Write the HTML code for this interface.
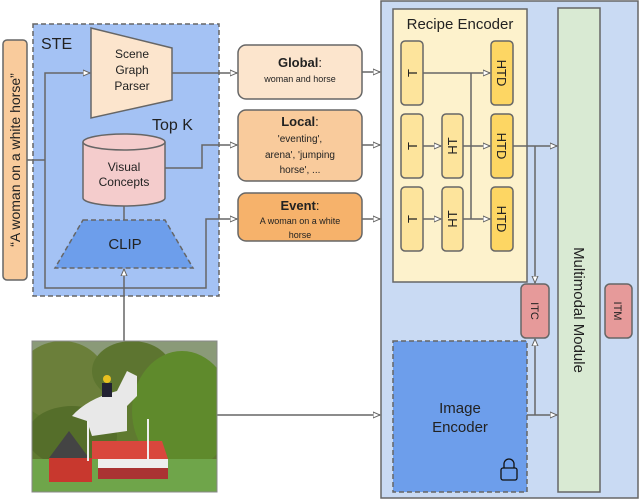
<!DOCTYPE html>
<html><head><style>body{margin:0;background:#fff}svg{display:block}text{font-family:"Liberation Sans",sans-serif}</style></head><body>
<svg width="640" height="500" viewBox="0 0 640 500">
<defs><marker id="a" markerWidth="8" markerHeight="8" refX="7" refY="4" orient="auto" markerUnits="userSpaceOnUse"><path d="M0,1 L7,4 L0,7 Z" fill="#fff" stroke="#666" stroke-width="1"/></marker></defs>
<rect x="381" y="1" width="257" height="497" fill="#c9daf3" stroke="#666" stroke-width="1.5"/>
<rect x="393" y="9" width="134" height="273" fill="#fdf2cc" stroke="#666" stroke-width="1.5"/>
<text x="460" y="29" font-size="15" text-anchor="middle" fill="#222">Recipe Encoder</text>
<g stroke="#666" stroke-width="1.5">
<rect x="401" y="41" width="22" height="64" rx="4" fill="#fde49c"/>
<rect x="401" y="114" width="22" height="64" rx="4" fill="#fde49c"/>
<rect x="401" y="187" width="22" height="64" rx="4" fill="#fde49c"/>
<rect x="442" y="114" width="21" height="64" rx="4" fill="#fde49c"/>
<rect x="442" y="187" width="21" height="64" rx="4" fill="#fde49c"/>
<rect x="491" y="41" width="22" height="64" rx="4" fill="#fdd663"/>
<rect x="491" y="114" width="22" height="64" rx="4" fill="#fdd663"/>
<rect x="491" y="187" width="22" height="64" rx="4" fill="#fdd663"/>
<rect x="558" y="8" width="42" height="484" fill="#d9ead3"/>
<rect x="521" y="284" width="28" height="54" rx="5" fill="#e69a9a"/>
<rect x="605" y="284" width="27" height="54" rx="5" fill="#e69a9a"/>
<rect x="393" y="341" width="134" height="151" fill="#6d9eeb" stroke-dasharray="5,3"/>
</g>
<g font-size="13" fill="#222" text-anchor="middle">
<text transform="translate(412,73) rotate(-90)" dy="5">T</text>
<text transform="translate(412,146) rotate(-90)" dy="5">T</text>
<text transform="translate(412,219) rotate(-90)" dy="5">T</text>
<text transform="translate(452,146) rotate(-90)" dy="5">HT</text>
<text transform="translate(452,219) rotate(-90)" dy="5">HT</text>
<text transform="translate(502,73) rotate(90)" dy="5">HTD</text>
<text transform="translate(502,146) rotate(90)" dy="5">HTD</text>
<text transform="translate(502,219) rotate(90)" dy="5">HTD</text>
<text transform="translate(579,310) rotate(90)" dy="5" font-size="15">Multimodal Module</text>
<text transform="translate(535,311) rotate(90)" dy="4" font-size="11">ITC</text>
<text transform="translate(618,311) rotate(90)" dy="4" font-size="11">ITM</text>
<text x="460" y="413" font-size="15">Image</text>
<text x="460" y="432" font-size="15">Encoder</text>
</g>
<g stroke="#666" stroke-width="1.5" fill="none">
<path d="M423,73 H490" marker-end="url(#a)"/>
<path d="M471,73 V219"/>
<path d="M423,146 H441" marker-end="url(#a)"/>
<path d="M423,219 H441" marker-end="url(#a)"/>
<path d="M463,146 H490" marker-end="url(#a)"/>
<path d="M463,219 H490" marker-end="url(#a)"/>
<path d="M513,146 H557" marker-end="url(#a)"/>
<path d="M535,146 V283" marker-end="url(#a)"/>
<path d="M527,415 H557" marker-end="url(#a)"/>
<path d="M535,415 V339" marker-end="url(#a)"/>
</g>
<g stroke="#111" stroke-width="1.3" fill="none">
<rect x="501" y="468" width="16" height="12" rx="2"/><path d="M504,468 v-4 a5,5 0 0 1 10,0 v4"/>
<rect x="155" y="250" width="16" height="12" rx="2"/><path d="M158,250 v-4 a5,5 0 0 1 10,0 v4"/>
</g>
<rect x="3" y="40" width="24" height="240" rx="4" fill="#f9cb9c" stroke="#666" stroke-width="1.5"/>
<text transform="translate(15,160) rotate(-90)" dy="5" text-anchor="middle" font-size="14" fill="#222">“A woman on a white horse”</text>
<rect x="33" y="24" width="186" height="272" fill="#a4c2f4" stroke="#666" stroke-width="1.5" stroke-dasharray="5,3"/>
<text x="41" y="49" font-size="16" fill="#222">STE</text>
<path d="M91,28 L172,48 L172,100 L91,118 Z" fill="#fce5cd" stroke="#666" stroke-width="1.5"/>
<text x="132" y="58" font-size="12" text-anchor="middle" fill="#222">Scene</text>
<text x="132" y="74" font-size="12" text-anchor="middle" fill="#222">Graph</text>
<text x="132" y="90" font-size="12" text-anchor="middle" fill="#222">Parser</text>
<text x="152" y="130" font-size="16" fill="#222">Top K</text>
<path d="M83,142 V198 A41,8 0 0 0 165,198 V142" fill="#f4cccc" stroke="#666" stroke-width="1.5"/>
<ellipse cx="124" cy="142" rx="41" ry="8" fill="#f4cccc" stroke="#666" stroke-width="1.5"/>
<text x="124" y="171" font-size="12" text-anchor="middle" fill="#222">Visual</text>
<text x="124" y="186" font-size="12" text-anchor="middle" fill="#222">Concepts</text>
<path d="M83,220 L165,220 L193,268 L55,268 Z" fill="#6d9eeb" stroke="#666" stroke-width="1.5" stroke-dasharray="5,3"/>
<text x="125" y="249" font-size="15" text-anchor="middle" fill="#222">CLIP</text>
<g stroke="#666" stroke-width="1.5">
<rect x="238" y="45" width="124" height="54" rx="8" fill="#fce5cd"/>
<rect x="238" y="110" width="124" height="71" rx="8" fill="#f9cb9c"/>
<rect x="238" y="193" width="124" height="48" rx="8" fill="#f6b26b"/>
</g>
<g text-anchor="middle" fill="#222">
<text x="300" y="67" font-size="13"><tspan font-weight="bold">Global</tspan>:</text>
<text x="300" y="82" font-size="9">woman and horse</text>
<text x="300" y="126" font-size="13"><tspan font-weight="bold">Local</tspan>:</text>
<text x="300" y="142" font-size="10">'eventing',</text>
<text x="300" y="158" font-size="10">arena', 'jumping</text>
<text x="300" y="173" font-size="10">horse', ...</text>
<text x="300" y="210" font-size="13"><tspan font-weight="bold">Event</tspan>:</text>
<text x="300" y="224" font-size="9">A woman on a white</text>
<text x="300" y="238" font-size="9">horse</text>
</g>
<g stroke="#666" stroke-width="1.5" fill="none">
<path d="M27,160 H45"/>
<path d="M45,160 V73 H90" marker-end="url(#a)"/>
<path d="M45,160 V288 H206 V219 H237" marker-end="url(#a)"/>
<path d="M172,73 H237" marker-end="url(#a)"/>
<path d="M165,168 H202 V145 H237" marker-end="url(#a)"/>
<path d="M124,206 V220"/>
<path d="M124,341 V269" marker-end="url(#a)"/>
<path d="M362,72 H380" marker-end="url(#a)"/>
<path d="M362,145 H380" marker-end="url(#a)"/>
<path d="M362,219 H380" marker-end="url(#a)"/>
<path d="M217,415 H380" marker-end="url(#a)"/>
</g>
<svg x="32" y="341" width="185" height="151" viewBox="0 0 185 151">
<rect width="185" height="151" fill="#5f7a30"/>
<rect width="185" height="30" fill="#8a9a78"/>
<ellipse cx="30" cy="40" rx="45" ry="40" fill="#6b7f3a"/>
<ellipse cx="100" cy="30" rx="40" ry="30" fill="#5d7530"/>
<ellipse cx="150" cy="70" rx="50" ry="60" fill="#5f8a2c"/>
<ellipse cx="40" cy="95" rx="45" ry="30" fill="#556e2a"/>
<rect y="118" width="185" height="33" fill="#6fa54a"/>
<path d="M60,100 h70 l6,18 h-76 Z" fill="#d9473d"/>
<rect x="66" y="118" width="70" height="9" fill="#eee"/>
<rect x="66" y="127" width="70" height="11" fill="#a33"/>
<path d="M17,117 L37,90 L57,117 Z" fill="#444"/>
<rect x="17" y="117" width="43" height="24" fill="#c8382e"/>
<path d="M40,75 Q55,58 85,50 L95,30 L105,35 L105,55 L95,65 L95,90 L60,95 L55,80 Z" fill="#e8e8e8"/>
<circle cx="75" cy="38" r="4" fill="#e8c020"/>
<rect x="70" y="42" width="10" height="14" fill="#223"/>
<rect x="115" y="78" width="2" height="40" fill="#eee"/>
<rect x="55" y="80" width="2" height="40" fill="#eee"/>
</svg>
<rect x="32" y="341" width="185" height="151" fill="none" stroke="#888" stroke-width="1"/>
</svg>
</body></html>
